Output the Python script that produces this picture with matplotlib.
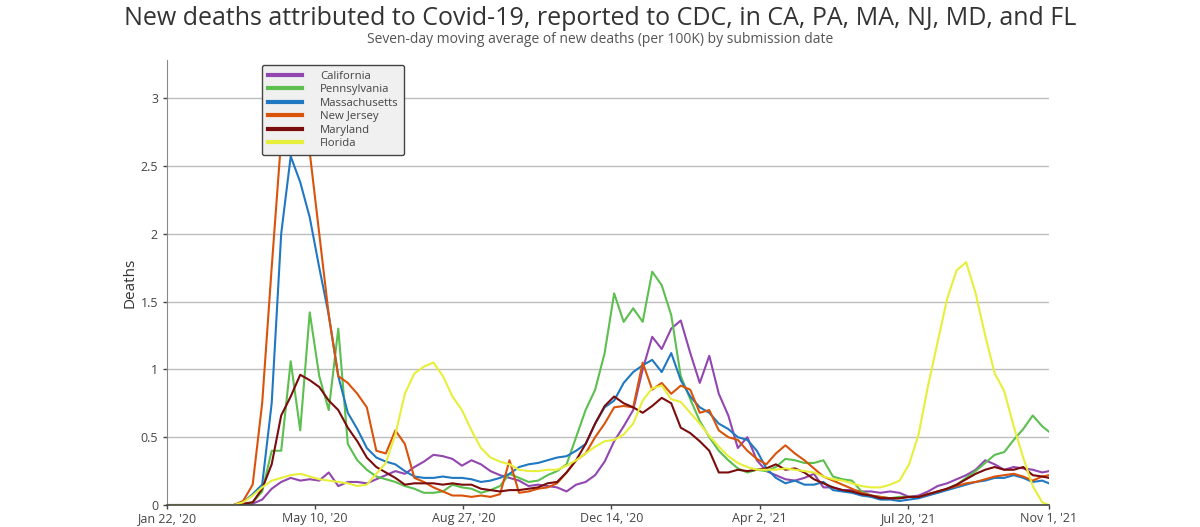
import pandas as pd
import matplotlib.pyplot as plt

plt.rcParams['font.family'] = ['Open Sans', 'DejaVu Sans']

# weekly samples from Jan 22 2020, last point Nov 1 2021
dates = list(pd.date_range('2020-01-22', periods=93, freq='7D')) + [pd.Timestamp('2021-11-01')]

states = ['California', 'Pennsylvania', 'Massachusetts', 'New Jersey', 'Maryland', 'Florida']
colors = ['#9246b0', '#5cbf4f', '#1f78c1', '#d9530b', '#7a0c0c', '#e6ef3a']

california = [0, 0, 0, 0, 0, 0, 0, 0, 0, 0.01,
              0.04, 0.12, 0.17, 0.2, 0.18, 0.19, 0.18, 0.24, 0.14, 0.17,
              0.17, 0.16, 0.19, 0.22, 0.25, 0.23, 0.28, 0.32, 0.37, 0.36,
              0.34, 0.29, 0.33, 0.3, 0.25, 0.22, 0.2, 0.18, 0.14, 0.15,
              0.14, 0.13, 0.1, 0.15, 0.17, 0.22, 0.32, 0.47, 0.58, 0.7,
              1.0, 1.24, 1.15, 1.3, 1.36, 1.12, 0.9, 1.1, 0.82, 0.66,
              0.42, 0.5, 0.33, 0.25, 0.22, 0.19, 0.18, 0.2, 0.23, 0.13,
              0.13, 0.11, 0.11, 0.1, 0.1, 0.09, 0.1, 0.09, 0.06, 0.07,
              0.1, 0.14, 0.16, 0.19, 0.22, 0.26, 0.33, 0.3, 0.26, 0.28,
              0.27, 0.26, 0.24, 0.25]

pennsylvania = [0, 0, 0, 0, 0, 0, 0, 0, 0, 0.02,
                0.1, 0.4, 0.4, 1.06, 0.55, 1.42, 0.95, 0.7, 1.3, 0.45,
                0.33, 0.26, 0.21, 0.19, 0.17, 0.14, 0.12, 0.09, 0.09, 0.1,
                0.15, 0.13, 0.12, 0.09, 0.11, 0.14, 0.23, 0.2, 0.17, 0.18,
                0.22, 0.25, 0.3, 0.5, 0.7, 0.85, 1.12, 1.56, 1.35, 1.45,
                1.35, 1.72, 1.62, 1.4, 0.95, 0.78, 0.62, 0.5, 0.4, 0.33,
                0.27, 0.24, 0.26, 0.25, 0.28, 0.34, 0.33, 0.31, 0.31, 0.33,
                0.21, 0.19, 0.18, 0.1, 0.07, 0.06, 0.05, 0.06, 0.06, 0.06,
                0.08, 0.09, 0.12, 0.15, 0.2, 0.25, 0.31, 0.37, 0.39, 0.48,
                0.56, 0.66, 0.58, 0.54]

massachusetts = [0, 0, 0, 0, 0, 0, 0, 0, 0.02, 0.08,
                 0.15, 0.75, 2.0, 2.57, 2.38, 2.12, 1.75, 1.4, 0.95, 0.68,
                 0.56, 0.42, 0.35, 0.32, 0.3, 0.25, 0.21, 0.2, 0.2, 0.21,
                 0.2, 0.2, 0.19, 0.17, 0.18, 0.2, 0.23, 0.28, 0.3, 0.31,
                 0.33, 0.35, 0.36, 0.4, 0.45, 0.6, 0.72, 0.77, 0.9, 0.98,
                 1.03, 1.07, 0.98, 1.12, 0.92, 0.8, 0.72, 0.68, 0.6, 0.56,
                 0.5, 0.48, 0.4, 0.27, 0.2, 0.16, 0.18, 0.15, 0.15, 0.17,
                 0.11, 0.1, 0.09, 0.07, 0.06, 0.04, 0.04, 0.03, 0.04, 0.05,
                 0.07, 0.09, 0.11, 0.13, 0.15, 0.17, 0.18, 0.2, 0.2, 0.22,
                 0.2, 0.17, 0.18, 0.16]

new_jersey = [0, 0, 0, 0, 0, 0, 0, 0, 0.03, 0.15,
              0.75, 1.75, 2.7, 3.15, 3.1, 2.6, 2.0, 1.4, 0.95, 0.9,
              0.82, 0.72, 0.4, 0.38, 0.55, 0.45, 0.2, 0.17, 0.13, 0.1,
              0.07, 0.07, 0.06, 0.07, 0.06, 0.08, 0.33, 0.09, 0.1, 0.12,
              0.13, 0.16, 0.24, 0.33, 0.38, 0.5, 0.6, 0.72, 0.73, 0.72,
              1.05, 0.85, 0.9, 0.82, 0.88, 0.85, 0.68, 0.7, 0.55, 0.5,
              0.48, 0.4, 0.34, 0.3, 0.38, 0.44, 0.38, 0.33, 0.27, 0.21,
              0.18, 0.15, 0.12, 0.09, 0.07, 0.06, 0.05, 0.05, 0.06, 0.06,
              0.08, 0.1, 0.12, 0.14, 0.16, 0.17, 0.19, 0.21, 0.22, 0.23,
              0.21, 0.18, 0.21, 0.22]

maryland = [0, 0, 0, 0, 0, 0, 0, 0, 0.01, 0.02,
            0.12, 0.3, 0.66, 0.8, 0.96, 0.92, 0.87, 0.77, 0.7, 0.57,
            0.47, 0.35, 0.28, 0.24, 0.2, 0.15, 0.16, 0.16, 0.16, 0.15,
            0.16, 0.15, 0.15, 0.12, 0.11, 0.1, 0.11, 0.11, 0.12, 0.13,
            0.16, 0.17, 0.24, 0.33, 0.45, 0.6, 0.73, 0.8, 0.75, 0.72,
            0.68, 0.73, 0.79, 0.75, 0.57, 0.53, 0.47, 0.4, 0.24, 0.24,
            0.26, 0.25, 0.26, 0.27, 0.3, 0.26, 0.27, 0.24, 0.19, 0.16,
            0.13, 0.11, 0.1, 0.08, 0.07, 0.05, 0.05, 0.05, 0.06, 0.06,
            0.08, 0.1, 0.12, 0.15, 0.19, 0.23, 0.26, 0.28, 0.26, 0.26,
            0.28, 0.22, 0.21, 0.2]

florida = [0, 0, 0, 0, 0, 0, 0, 0, 0.02, 0.07,
           0.13, 0.18, 0.2, 0.22, 0.23, 0.21, 0.19, 0.18, 0.17, 0.16,
           0.14, 0.15, 0.23, 0.31, 0.52, 0.82, 0.97, 1.02, 1.05, 0.95,
           0.8, 0.7, 0.55, 0.42, 0.35, 0.32, 0.3, 0.26, 0.25, 0.25,
           0.26, 0.26, 0.29, 0.33, 0.38, 0.43, 0.47, 0.48, 0.52, 0.6,
           0.77, 0.86, 0.88, 0.78, 0.76, 0.68, 0.6, 0.51, 0.43, 0.36,
           0.31, 0.28, 0.26, 0.26, 0.26, 0.27, 0.26, 0.25, 0.24, 0.21,
           0.19, 0.18, 0.16, 0.14, 0.13, 0.13, 0.15, 0.18, 0.3, 0.52,
           0.88, 1.2, 1.52, 1.73, 1.79, 1.56, 1.25, 0.97, 0.84, 0.58,
           0.35, 0.14, 0.02, 0.0]

series = [california, pennsylvania, massachusetts, new_jersey, maryland, florida]

tick_dates = ['2020-01-22', '2020-05-10', '2020-08-27', '2020-12-14',
              '2021-04-02', '2021-07-20', '2021-11-01']
tick_labels = ["Jan 22, '20", "May 10, '20", "Aug 27, '20", "Dec 14, '20",
               "Apr 2, '21", "Jul 20, '21", "Nov 1, '21"]
y_ticks = [0, 0.5, 1, 1.5, 2, 2.5, 3]
y_labels = ['0', '0.5', '1', '1.5', '2', '2.5', '3']

fig = plt.figure(figsize=(12, 5.27), dpi=100)
ax = fig.add_axes([0.1392, 0.0417, 0.735, 0.8444])

for name, vals, c in zip(states, series, colors):
    ax.plot(dates, vals, color=c, linewidth=1.5, label=name)

ax.set_xlim(pd.Timestamp('2020-01-22'), pd.Timestamp('2021-11-01'))
ax.set_ylim(0, 3.28)
ax.set_xticks([pd.Timestamp(d) for d in tick_dates])
ax.set_xticklabels(tick_labels)
ax.set_yticks(y_ticks)
ax.set_yticklabels(y_labels)
ax.tick_params(axis='both', labelsize=9, colors='#444444', length=3, width=1)
ax.tick_params(axis='x', pad=2)

ax.grid(axis='y', color='#bdbdbd', linewidth=1)
ax.set_axisbelow(True)
for side in ['top', 'right']:
    ax.spines[side].set_visible(False)
ax.spines['left'].set_color('#888888')
ax.spines['bottom'].set_color('#444444')
ax.spines['bottom'].set_linewidth(1.2)

ax.set_ylabel('Deaths', fontsize=11, color='#333333', labelpad=2)

fig.text(0.5, 0.965, 'New deaths attributed to Covid-19, reported to CDC, in CA, PA, MA, NJ, MD, and FL',
         ha='center', va='center', fontsize=18, color='#333333')
fig.text(0.5, 0.925, 'Seven-day moving average of new deaths (per 100K) by submission date',
         ha='center', va='center', fontsize=10, color='#555555')

leg = ax.legend(loc='upper left', bbox_to_anchor=(0.2183, 0.8767), bbox_transform=fig.transFigure,
                borderaxespad=0, fontsize=8.2, handlelength=3.0, handletextpad=1.6,
                labelspacing=0.22, borderpad=0.5, fancybox=True, framealpha=1)
leg.get_frame().set_facecolor('#f0f0f0')
leg.get_frame().set_edgecolor('#444444')
leg.get_frame().set_linewidth(1)
for line in leg.get_lines():
    line.set_linewidth(3)
for t in leg.get_texts():
    t.set_color('#444444')

fig.savefig('out.png', dpi=100)
